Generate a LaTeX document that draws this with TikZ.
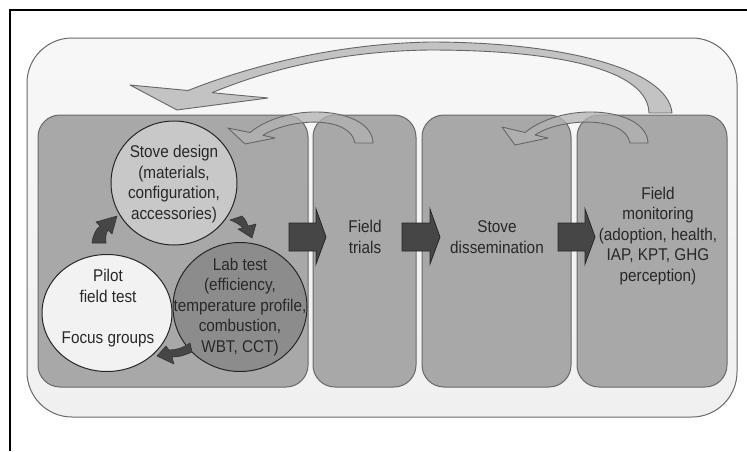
\documentclass[tikz,border=0pt]{standalone}
\usepackage{fontspec}
\setmainfont[FakeStretch=0.9]{Liberation Sans}
\usetikzlibrary{shapes.geometric}
\definecolor{outerfill}{RGB}{240,240,240}
\definecolor{boxfill}{RGB}{168,168,168}
\definecolor{boxline}{RGB}{105,105,105}
\definecolor{designfill}{RGB}{200,200,200}
\definecolor{pilotfill}{RGB}{242,242,242}
\definecolor{labfill}{RGB}{140,140,140}
\definecolor{txtcol}{RGB}{40,40,40}
\definecolor{darkarrow}{RGB}{70,70,70}
\definecolor{curvefill}{RGB}{178,178,178}
\begin{document}
\begin{tikzpicture}[x=1pt,y=-1pt,
  stagebox/.style={draw=boxline, line width=1pt, fill=boxfill, rounded corners=22pt, inner sep=0pt, outer sep=0pt, minimum height=272pt},
  circ/.style={ellipse, draw=black!85, line width=1pt, inner sep=0pt},
  txt/.style={font=\fontsize{17}{20.5}\selectfont, text=txtcol, align=center, inner sep=0pt},
  curvearrow/.style={fill=curvefill, fill opacity=0.75, draw=black!60, line width=0.9pt, line join=round},
  smallarrow/.style={fill=darkarrow, draw=black!80, line width=0.6pt, line join=round},
  blockarrow/.style={fill=darkarrow, draw=black!85, line width=0.8pt, line join=miter}]
\useasboundingbox (0,0) rectangle (747,451);
\fill[white] (0,0) rectangle (747,451);
% page frame
\draw[black, line width=1.5pt] (10,451) -- (10,10) -- (747,10);
% outer rounded rectangle
\node[draw=boxline, line width=1pt, top color=white!97!black, bottom color=outerfill, rounded corners=45pt, inner sep=0pt, minimum width=710pt, minimum height=379pt] (outer) at (382,227.5) {};
% stage boxes
\node[stagebox, minimum width=270pt] (group) at (173,251) {};
\node[stagebox, minimum width=103pt] (trials) at (364.5,251) {};
\node[stagebox, minimum width=149pt] (dissem) at (496.5,251) {};
\node[stagebox, minimum width=150pt] (monitor) at (652,251) {};
% big feedback arrow
\draw[curvearrow] (672,113) .. controls (668,68) and (560,42) .. (430,42)
  .. controls (330,44) and (245,68) .. (188,90.5) -- (130,85) -- (177,110) -- (268,98) -- (212,92.7)
  .. controls (262,72) and (335,51) .. (430,50)
  .. controls (560,50) and (648,70) .. (649,113) -- cycle;
% small feedback arrows
\draw[curvearrow] (373,143) .. controls (372,108) and (290,100) .. (250,132.5)
  -- (228,128) -- (245,144) -- (275,138) -- (263,135.3)
  .. controls (290,118) and (350,115) .. (355,143) -- cycle;
\draw[curvearrow] (648,143) .. controls (647,108) and (565,100) .. (525,132.5)
  -- (502,127) -- (515,145) -- (548,138) -- (535,135)
  .. controls (560,118) and (625,115) .. (630,143) -- cycle;
% circles
\node[circ, fill=designfill, minimum width=126pt, minimum height=124pt] (design) at (174,183) {};
\node[circ, fill=pilotfill, minimum width=130pt, minimum height=117pt] (pilot) at (107,313) {};
\node[circ, fill=labfill, minimum width=134pt, minimum height=129pt] (lab) at (240,307) {};
% cycle arrows between circles
\draw[smallarrow] (92,243) .. controls (93,235) and (96,229) .. (100,226) -- (96,222) -- (117,216) -- (112,234) -- (108,230) .. controls (105,234) and (106,239) .. (106,243) -- cycle;
\draw[smallarrow] (230,220) -- (242,216) .. controls (246,220) and (247,223) .. (248,226) -- (256,224) -- (252,238) -- (238,229) -- (243,228) .. controls (240,225) and (236,222) .. (230,220) -- cycle;
\draw[smallarrow] (190,343) -- (192,352) .. controls (183,356) and (178,357) .. (172,357) -- (174,364) -- (157,356) -- (166,346) -- (169,350) .. controls (176,350) and (183,348) .. (190,343) -- cycle;
% block arrows between stages
\draw[blockarrow] (289,223) -- (316,223) -- (316,209) -- (326,237) -- (316,264) -- (316,251) -- (289,251) -- cycle;
\draw[blockarrow] (402,223) -- (430,223) -- (430,209) -- (440,237) -- (430,264) -- (430,251) -- (402,251) -- cycle;
\draw[blockarrow] (558,223) -- (585,223) -- (585,209) -- (595,237) -- (585,264) -- (585,251) -- (558,251) -- cycle;
% texts
\node[txt] (designtxt) at (174,184) {Stove design\\(materials,\\configuration,\\accessories)};
\node[txt] (pilottxt) at (108,308) {Pilot\\field test\\[20.5pt]Focus groups};
\node[txt] (labtxt) at (240,307) {Lab test\\(efficiency,\\temperature profile,\\combustion,\\WBT, CCT)};
\node[txt] (trialstxt) at (365,237) {Field\\trials};
\node[txt] (dissemtxt) at (497,237) {Stove\\dissemination};
\node[txt] (monitortxt) at (658,236) {Field\\monitoring\\(adoption, health,\\IAP, KPT, GHG\\perception)};
\end{tikzpicture}
\end{document}
